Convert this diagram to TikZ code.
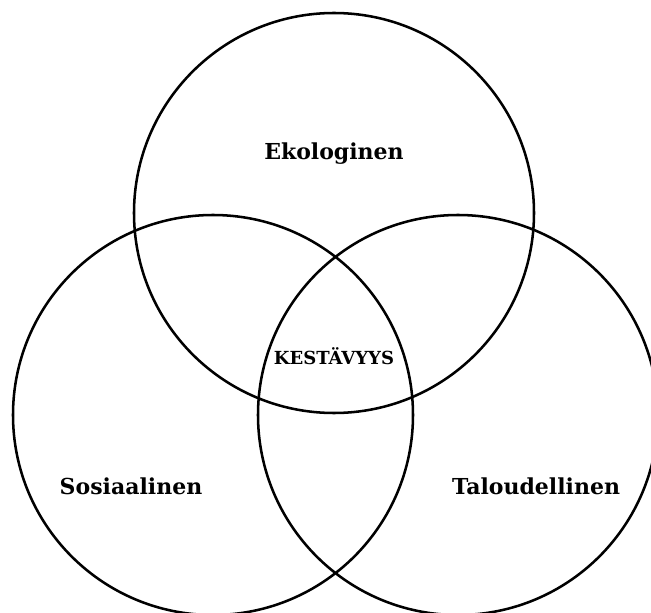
\documentclass[tikz,border=0pt]{standalone}
\usepackage{fontspec}
\setmainfont{DejaVu Serif}
\begin{document}
\begin{tikzpicture}[x=0.75pt,y=-0.75pt,
  ring/.style={circle,draw=black,line width=1.9pt,minimum size=300pt,inner sep=0pt},
  lbl/.style={font=\bfseries\fontsize{16.5pt}{18pt}\selectfont,anchor=base,inner sep=0pt},
  core/.style={font=\bfseries\fontsize{13.5pt}{15pt}\selectfont,anchor=base,inner sep=0pt}]
\useasboundingbox (0,0) rectangle (651,613);
\clip (0,0) rectangle (651,613);
\node[ring] (eko) at (334,213) {};
\node[ring] (sos) at (213,415) {};
\node[ring] (tal) at (458,415) {};
\node[lbl] (ekot) at (334,160) {Ekologinen};
\node[lbl] (sost) at (131,494) {Sosiaalinen};
\node[lbl] (talt) at (536,494) {Taloudellinen};
\node[core] (kes) at (334,365) {KESTÄVYYS};
\end{tikzpicture}
\end{document}
